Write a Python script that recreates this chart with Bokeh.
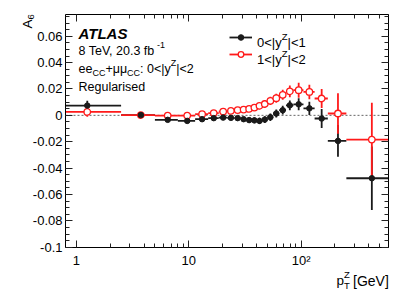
import numpy as np
from bokeh.plotting import figure
from bokeh.models import (Range1d, FixedTicker, LogAxis, LinearAxis, Label,
                          Legend, LegendItem, ColumnDataSource)
from bokeh.embed import file_html
from bokeh.resources import INLINE

# ---------------- data ----------------
pt_bin_edges = [0, 2.5, 5, 8, 11.4, 14.9, 18.5, 22, 25.5, 29, 32.6, 36.4, 40.4, 44.9,
                50.2, 56.4, 63.9, 73.4, 85.4, 105, 132, 173, 253, 600]

a6_y01 = [0.0074, 0.0002, -0.0034, -0.0042, -0.0029, -0.0021, -0.0017, -0.0019, -0.0021,
          -0.0029, -0.0036, -0.0038, -0.0042, -0.0032, -0.0014, 0.0014, 0.0039, 0.0076,
          0.0084, 0.0053, -0.0024, -0.0194, -0.0477]
err_y01 = [0.0036, 0.0010, 0.0010, 0.0010, 0.0010, 0.0012, 0.0013, 0.0015, 0.0017,
           0.0019, 0.0020, 0.0022, 0.0024, 0.0026, 0.0028, 0.0030, 0.0033, 0.0037,
           0.0045, 0.0050, 0.0072, 0.0120, 0.0240]

a6_y12 = [0.0026, 0.0002, -0.0002, -0.0002, 0.0009, 0.0017, 0.0029, 0.0034, 0.0040,
          0.0044, 0.0049, 0.0059, 0.0072, 0.0086, 0.0110, 0.0130, 0.0156, 0.0182,
          0.0191, 0.0178, 0.0128, 0.0014, -0.0184]
err_y12 = [0.0037, 0.0010, 0.0010, 0.0010, 0.0010, 0.0012, 0.0013, 0.0015, 0.0017,
           0.0019, 0.0021, 0.0023, 0.0026, 0.0028, 0.0031, 0.0034, 0.0038, 0.0044,
           0.0057, 0.0055, 0.0072, 0.0153, 0.0280]

series_names = ["0<|y^Z|<1", "1<|y^Z|<2"]

y_ticks = [-0.1, -0.08, -0.06, -0.04, -0.02, 0, 0.02, 0.04, 0.06]
y_tick_labels = ["-0.1", "-0.08", "-0.06", "-0.04", "-0.02", "0", "0.02", "0.04", "0.06"]
x_ticks = [1, 10, 100]
x_tick_labels = ["1", "10", "10\u00b2"]

X_MIN, X_MAX = 0.8, 600
Y_MIN, Y_MAX = -0.1, 0.0765

FONT = "Liberation Sans"

# ---------------- layout (canvas pixels) ----------------
W, H = 401, 292
BOX_L, BOX_R, BOX_T, BOX_B = 65.0, 388.0, 14.0, 246.7   # plot box inside the canvas

lx0, lx1 = np.log10(X_MIN), np.log10(X_MAX)
kx = (lx1 - lx0) / (BOX_R - BOX_L)
ky = (Y_MAX - Y_MIN) / (BOX_B - BOX_T)
xr = Range1d(10 ** (lx0 - BOX_L * kx), 10 ** (lx1 + (W - BOX_R) * kx))
yr = Range1d(Y_MIN - (H - BOX_B) * ky, Y_MAX + BOX_T * ky)

p = figure(width=W, height=H, x_axis_type="log", output_backend="svg",
           toolbar_location=None, x_range=xr, y_range=yr,
           x_axis_location=None, y_axis_location=None,
           min_border=0, min_border_left=0, min_border_right=0,
           min_border_top=0, min_border_bottom=0)
p.grid.visible = False
p.outline_line_color = None
p.background_fill_color = "white"
p.border_fill_color = "white"


def x_minor():
    m = []
    for dec in [1, 10, 100]:
        for k in range(2, 10):
            v = k * dec
            if v <= X_MAX:
                m.append(v)
    return m


y_minor = [float(v) for v in np.round(np.arange(Y_MIN, Y_MAX + 1e-9, 0.005), 4)]


def style(ax, labels=True):
    ax.major_tick_in = 7
    ax.major_tick_out = 0
    ax.minor_tick_in = 4
    ax.minor_tick_out = 0
    ax.axis_line_color = "black"
    ax.axis_line_width = 1
    ax.major_tick_line_color = "#222222"
    ax.minor_tick_line_color = "#222222"
    ax.major_label_text_font = FONT
    ax.major_label_text_font_size = "13px"
    ax.major_label_text_color = "black"
    if not labels:
        ax.major_label_text_alpha = 0
        ax.major_label_text_font_size = "2px"


bottom = LogAxis(ticker=FixedTicker(ticks=x_ticks, minor_ticks=x_minor()),
                 fixed_location=Y_MIN, bounds=(X_MIN, X_MAX))
bottom.major_label_overrides = dict(zip(x_ticks, x_tick_labels))
style(bottom)
bottom.major_label_standoff = 6
p.add_layout(bottom, "below")

left = LinearAxis(ticker=FixedTicker(ticks=y_ticks, minor_ticks=y_minor),
                  fixed_location=X_MIN, bounds=(Y_MIN, Y_MAX))
left.major_label_overrides = dict(zip(y_ticks, y_tick_labels))
style(left)
left.major_label_standoff = 3
p.add_layout(left, "left")

top = LogAxis(ticker=FixedTicker(ticks=x_ticks, minor_ticks=x_minor()),
              fixed_location=Y_MAX, bounds=(X_MIN, X_MAX))
style(top, labels=False)
p.add_layout(top, "above")

right = LinearAxis(ticker=FixedTicker(ticks=y_ticks, minor_ticks=y_minor),
                   fixed_location=X_MAX, bounds=(Y_MIN, Y_MAX))
style(right, labels=False)
p.add_layout(right, "right")

# zero reference line across the plot box
p.line(x=[X_MIN, X_MAX], y=[0, 0], line_color="#666666", line_dash="2 2", line_width=1)

# ---------------- data marks ----------------
lo = np.array(pt_bin_edges[:-1], dtype=float)
hi = np.array(pt_bin_edges[1:], dtype=float)
centers = (lo + hi) / 2
lo_draw = np.maximum(lo, X_MIN)


def make_src(vals, errs):
    v = np.array(vals)
    e = np.array(errs)
    return ColumnDataSource(dict(x=centers, y=v, xl=lo_draw, xr=hi, ylo=v - e, yhi=v + e))


src_b = make_src(a6_y01, err_y01)
src_r = make_src(a6_y12, err_y12)

BLK = "#1a1a1a"
RED = "#ff1a1a"
hb = p.segment(x0="xl", y0="y", x1="xr", y1="y", source=src_b, line_color=BLK, line_width=1.8)
p.segment(x0="x", y0="ylo", x1="x", y1="yhi", source=src_b, line_color=BLK, line_width=1.8)
hr = p.segment(x0="xl", y0="y", x1="xr", y1="y", source=src_r, line_color=RED, line_width=1.8)
p.segment(x0="x", y0="ylo", x1="x", y1="yhi", source=src_r, line_color=RED, line_width=1.8)
mr = p.scatter(x="x", y="y", source=src_r, marker="circle", size=6.5, fill_color="white",
               line_color=RED, line_width=1.3)
mb = p.scatter(x="x", y="y", source=src_b, marker="circle", size=5.5, fill_color=BLK,
               line_color=BLK)

# ---------------- legend ----------------
legend = Legend(items=[LegendItem(label=" ", renderers=[hb, mb]),
                       LegendItem(label=" ", renderers=[hr, mr])],
                location=(229, H - 61.3), orientation="vertical",
                glyph_width=23, glyph_height=14, label_height=14, label_width=2,
                spacing=3, padding=0, margin=0, label_standoff=2,
                background_fill_alpha=0, border_line_alpha=0,
                label_text_font_size="8px")
p.add_layout(legend, "center")

# ---------------- text helpers ----------------
WID = {' ': .278, '.': .278, ',': .278, ':': .278, '+': .584, '<': .584, '|': .26,
       '-': .333, '[': .278, ']': .278, 'A': .667, 'C': .722, 'G': .778, 'R': .722,
       'T': .611, 'V': .667, 'Z': .611, 'L': .556, 'S': .667, 'a': .556, 'b': .556,
       'd': .556, 'e': .556, 'f': .278, 'g': .556, 'i': .222, 'l': .222, 'p': .556,
       'r': .333, 's': .5, 'u': .556, 'y': .5, '\u03bc': .576}


def tw(s, size):
    return sum(WID.get(c, .556) for c in s) * size


def put(px, py, text, size, style="normal", angle=0.0):
    # px, py: canvas pixel position of the start of the text baseline
    p.add_layout(Label(x=px, y=H - py, x_units="screen", y_units="screen",
                       text=text, text_font=FONT, text_font_size=f"{size}px",
                       text_font_style=style, text_color="black",
                       text_baseline="alphabetic", text_align="left", angle=angle))


def rich(px, py, parts):
    x = px
    for text, size, dy in parts:
        put(x, py + dy, text, size)
        x += tw(text, size)


# ATLAS block
put(78, 32.5, "ATLAS", 15, "bold italic")
rich(78, 50, [("8 TeV, 20.3 fb", 12.5, 0), ("-1", 9, -5.5)])
rich(78, 68, [("ee", 12.5, 0), ("CC", 9, 4), ("+\u03bc\u03bc", 12.5, 0), ("CC", 9, 4),
              (": 0<|y", 12.5, 0), ("Z", 9, -6), ("|<2", 12.5, 0)])
put(78, 86, "Regularised", 12.5)

# legend texts
for i, name in enumerate(series_names):
    base, rest = name.split("^Z")
    rich(256.5, 42 + 17 * i, [(base, 13, 0), ("Z", 9.5, -6), (rest, 13, 0)])

# axis titles
put(27, 28, "A", 13.5, angle=np.pi / 2)
put(30.5, 28 - tw("A", 13.5), "6", 9.5, angle=np.pi / 2)
put(336, 280, "p", 13.5)
put(343.5, 284.5, "T", 9.5)
put(343.5, 274, "Z", 9.5)
put(352.5, 280, "[GeV]", 14)

open("out.html", "w").write(file_html(p, INLINE))
